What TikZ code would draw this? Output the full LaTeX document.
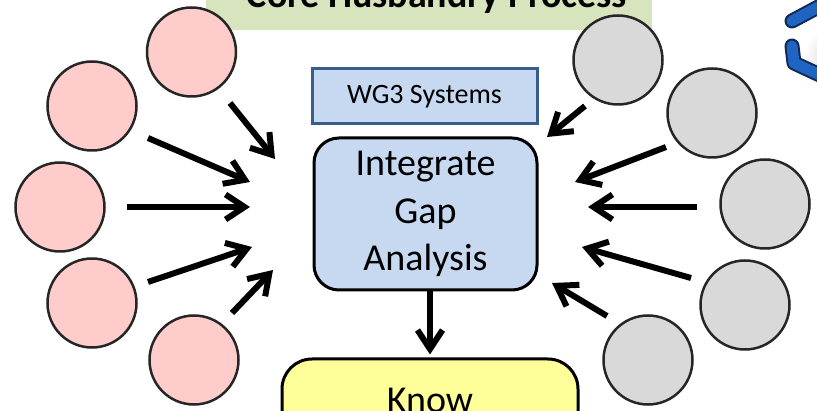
\documentclass[tikz,border=0pt]{standalone}
\usepackage{fontspec}
\setmainfont{Carlito}
\usetikzlibrary{arrows.meta}
\definecolor{pinkc}{HTML}{FFCCCC}
\definecolor{grayc}{HTML}{D9D9D9}
\definecolor{boxblue}{HTML}{C6D9F1}
\definecolor{boxedge}{HTML}{385D8A}
\definecolor{bannerg}{HTML}{D7E4BD}
\definecolor{knowy}{HTML}{FFFF99}
\definecolor{iconblue}{HTML}{1F64C0}
\definecolor{iconnavy}{HTML}{0E2A55}
\begin{document}
\begin{tikzpicture}[x=1pt,y=-1pt,
  bubble/.style={circle,draw=black!85,line width=2.5pt,minimum size=89pt,inner sep=0pt},
  pinkb/.style={bubble,fill=pinkc},
  grayb/.style={bubble,fill=grayc},
  feed/.style={line width=6pt,-{Straight Barb[length=19pt,width=25pt]}},
  procbox/.style={draw=black,line width=3pt,fill=boxblue,rounded corners=25pt,
    minimum width=223pt,minimum height=152pt,align=center,inner sep=0pt,
    font=\fontsize{38}{47.5}\selectfont},
  tagbox/.style={draw=boxedge,line width=3pt,fill=boxblue,minimum width=225pt,
    minimum height=55pt,inner sep=0pt,font=\fontsize{28}{34}\selectfont},
  outbox/.style={draw=black,line width=3pt,fill=knowy,rounded corners=30pt,
    minimum width=296pt,minimum height=82pt,inner sep=0pt,
    font=\fontsize{38}{46}\selectfont},
  bannerbox/.style={fill=bannerg,minimum width=446pt,minimum height=40pt,inner sep=0pt},
  bannertext/.style={font=\bfseries\fontsize{38}{46}\selectfont,anchor=base,inner sep=0pt}
]
\useasboundingbox (0,0) rectangle (817,411);

% banner
\node[bannerbox] (banner) at (429,10) {};
\node[bannertext] (bannerlbl) at (437,8) {Core Husbandry Process};

% top-right icon (partially visible)
\shade[inner color=gray!40, outer color=white] (838,58) circle (34);
\draw[line width=15pt,iconnavy,line cap=round] (792,21) -- (822,5);
\draw[line width=11pt,iconblue,line cap=round] (792,21) -- (822,5);
\draw[line width=15pt,iconnavy,line cap=round,line join=round] (792,46) -- (794,63) -- (822,76);
\draw[line width=11pt,iconblue,line cap=round,line join=round] (792,46) -- (794,63) -- (822,76);

% central boxes
\node[tagbox] (wg3) at (424.5,96.5) {WG3 Systems};
\node[procbox] (integ) at (425.5,214) {Integrate\\Gap\\Analysis};
\node[outbox] (know) at (430,400) {Know};

% left circles
\node[pinkb] (l1) at (191.5,52) {};
\node[pinkb] (l2) at (92,106) {};
\node[pinkb] (l3) at (60,207) {};
\node[pinkb] (l4) at (92,303) {};
\node[pinkb] (l5) at (194,360) {};

% right circles
\node[grayb] (r1) at (618,60) {};
\node[grayb] (r2) at (712,113) {};
\node[grayb] (r3) at (765,204) {};
\node[grayb] (r4) at (745,305) {};
\node[grayb] (r5) at (648,360) {};

% arrow ends
\coordinate (a1s) at (230,103); \coordinate (a1e) at (275,159);
\coordinate (a2s) at (148,138); \coordinate (a2e) at (250,182);
\coordinate (a3s) at (127,207); \coordinate (a3e) at (250,207);
\coordinate (a4s) at (148,282); \coordinate (a4e) at (252,247);
\coordinate (a5s) at (232,313); \coordinate (a5e) at (273,270);
\coordinate (b1s) at (585,106); \coordinate (b1e) at (547,137);
\coordinate (b2s) at (666,147); \coordinate (b2e) at (575,182);
\coordinate (b3s) at (697,207); \coordinate (b3e) at (588,207);
\coordinate (b4s) at (691,278); \coordinate (b4e) at (582,247);
\coordinate (b5s) at (607,316); \coordinate (b5e) at (552,283);

\draw[feed] (a1s) -- (a1e);
\draw[feed] (a2s) -- (a2e);
\draw[feed] (a3s) -- (a3e);
\draw[feed] (a4s) -- (a4e);
\draw[feed] (a5s) -- (a5e);
\draw[feed] (b1s) -- (b1e);
\draw[feed] (b2s) -- (b2e);
\draw[feed] (b3s) -- (b3e);
\draw[feed] (b4s) -- (b4e);
\draw[feed] (b5s) -- (b5e);

\draw[feed,shorten >=3pt] (integ.south -| know.north) -- (know.north);
\end{tikzpicture}
\end{document}
